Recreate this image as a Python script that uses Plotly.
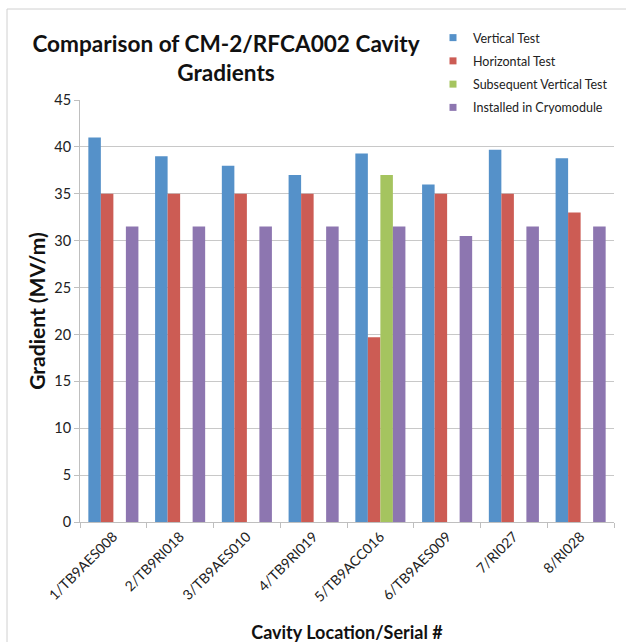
import plotly.graph_objects as go

# Cavity positions / serial numbers along the cryomodule
cavities = ["1/TB9AES008", "2/TB9RI018", "3/TB9AES010", "4/TB9RI019",
            "5/TB9ACC016", "6/TB9AES009", "7/RI027", "8/RI028"]

# Accelerating gradients in MV/m
vertical_test = [41.0, 39.0, 38.0, 37.0, 39.3, 36.0, 39.7, 38.8]
horizontal_test = [35.0, 35.0, 35.0, 35.0, 19.7, 35.0, 35.0, 33.0]
subsequent_vertical = [None, None, None, None, 37.0, None, None, None]
installed = [31.5, 31.5, 31.5, 31.5, 31.5, 30.5, 31.5, 31.5]

y_ticks = [0, 5, 10, 15, 20, 25, 30, 35, 40, 45]

FONT = "Lato, Open Sans, sans-serif"

series = [
    ("Vertical Test", vertical_test, "#5591C9"),
    ("Horizontal Test", horizontal_test, "#CC5C54"),
    ("Subsequent Vertical Test", subsequent_vertical, "#A5C45F"),
    ("Installed in Cryomodule", installed, "#8D76B0"),
]

fig = go.Figure()
for name, vals, color in series:
    fig.add_trace(go.Bar(
        x=cavities, y=vals, name=name, legendgroup=name, showlegend=False,
        marker=dict(color=color, line=dict(width=0)),
    ))
# Small square swatches for the legend
for name, vals, color in series:
    fig.add_trace(go.Scatter(
        x=[None], y=[None], mode="markers", name=name, legendgroup=name,
        marker=dict(symbol="square", size=7, color=color),
    ))

fig.update_layout(
    width=627, height=643,
    margin=dict(l=80, r=13, t=100, b=121, autoexpand=False),
    paper_bgcolor="white", plot_bgcolor="white",
    barmode="group", bargap=0.25, bargroupgap=0,
    font=dict(family=FONT, color="#222222"),
    title=dict(
        text="<b>Comparison of CM-2/RFCA002 Cavity<br>Gradients</b>",
        font=dict(family=FONT, size=22.6, color="#111111"),
        x=226 / 627, xanchor="center", y=1 - 52 / 643, yanchor="top",
    ),
    legend=dict(
        xref="container", yref="container",
        x=433 / 627, y=1 - 23 / 643, xanchor="left", yanchor="top",
        bgcolor="rgba(0,0,0,0)", font=dict(family=FONT, size=12.5, color="#222222"),
        itemwidth=30, tracegroupgap=4, traceorder="grouped",
    ),
    showlegend=True,
)

fig.update_yaxes(
    range=[0, 45], tickvals=y_ticks, automargin=False,
    showgrid=True, gridcolor="#C8C8C8", gridwidth=1,
    showline=True, linecolor="#BFBFBF", linewidth=1,
    ticks="outside", ticklen=5, tickcolor="#BFBFBF",
    tickfont=dict(family=FONT, size=14.5, color="#222222"),
    title=dict(text="<b>Gradient (MV/m)</b>", font=dict(family=FONT, size=21, color="#111111"),
               standoff=2),
    zeroline=False,
)
fig.update_xaxes(
    automargin=False,
    showline=True, linecolor="#BFBFBF", linewidth=1,
    ticks="outside", ticklen=5, tickcolor="#BFBFBF", tickson="boundaries",
    tickangle=-45,
    tickfont=dict(family=FONT, size=14, color="#222222"),
    title=dict(text="<b>Cavity Location/Serial #</b>", font=dict(family=FONT, size=18, color="#111111"),
               standoff=24),
)

# Thin frame along the top and left edges of the chart
frame_left = (7 - 80) / 534
frame_top = 1 + (100 - 9) / 422
fig.add_shape(type="line", xref="paper", yref="paper",
              x0=frame_left, x1=(626 - 80) / 534, y0=frame_top, y1=frame_top,
              line=dict(color="#D0D0D0", width=1))
fig.add_shape(type="line", xref="paper", yref="paper",
              x0=frame_left, x1=frame_left, y0=frame_top, y1=-(642 - 522) / 422,
              line=dict(color="#D0D0D0", width=1))

fig.write_html("out.html")
